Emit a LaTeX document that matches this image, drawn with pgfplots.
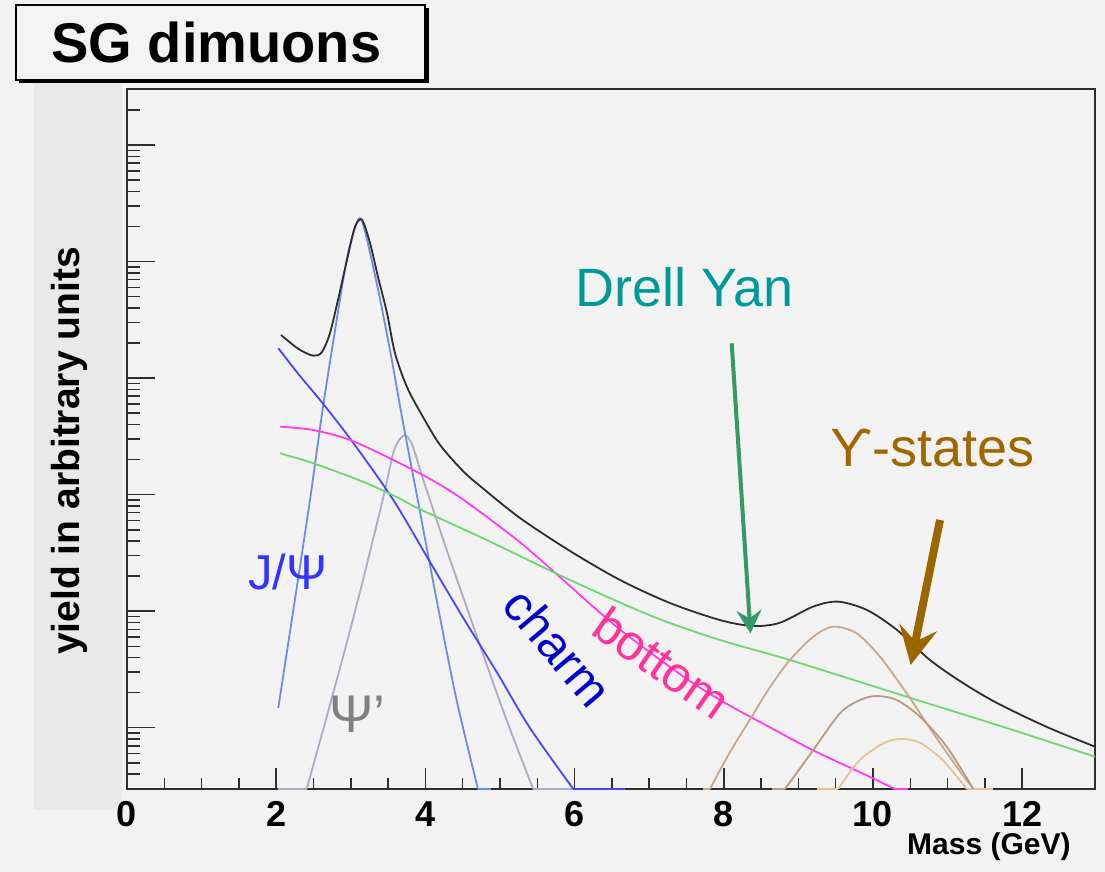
\documentclass[border=0pt]{standalone}
\usepackage{fontspec}
\setmainfont{Liberation Sans}
\usepackage{pgfplots}
\pgfplotsset{compat=1.18}
\usetikzlibrary{arrows.meta}
\definecolor{bg}{RGB}{242,242,242}
\definecolor{panel}{RGB}{233,233,233}
\definecolor{titlebg}{RGB}{243,243,243}
\definecolor{totc}{RGB}{45,45,45}
\definecolor{jpsic}{RGB}{110,140,225}
\definecolor{psipc}{RGB}{175,170,195}
\definecolor{charmc}{RGB}{70,70,245}
\definecolor{bottc}{RGB}{255,60,240}
\definecolor{dyc}{RGB}{110,215,110}
\definecolor{ysa}{RGB}{200,168,140}
\definecolor{ysb}{RGB}{185,155,130}
\definecolor{ysc}{RGB}{228,195,145}
\definecolor{tjpsi}{RGB}{51,51,255}
\definecolor{tpsip}{RGB}{128,128,128}
\definecolor{tcharm}{RGB}{0,0,204}
\definecolor{tbott}{RGB}{255,51,153}
\definecolor{tdy}{RGB}{0,153,153}
\definecolor{tups}{RGB}{160,102,0}
\definecolor{agreen}{RGB}{51,153,102}
\definecolor{abrown}{RGB}{153,102,0}
\begin{document}
\begin{tikzpicture}
\begin{scope}[shift={(-63.5pt,394.5pt)},x=0.5pt,y=-0.5pt]
  \path[use as bounding box, fill=bg] (0,0) rectangle (1105,872);
  \fill[panel] (34,82) rectangle (122,810);
  \fill[black] (19.5,8.5) rectangle (428.5,83.5);
  \filldraw[fill=titlebg, draw=black, line width=0.6pt] (16,5) rectangle (425,80);
  \node[anchor=base west, inner sep=0pt, font=\bfseries\fontsize{28}{30}\selectfont] at (51,63) {SG dimuons};
  \node[rotate=90, anchor=base, inner sep=0pt, font=\bfseries\fontsize{19.5}{22}\selectfont] at (80,451) {yield in arbitrary units};
\end{scope}
\begin{axis}[
  at={(0,0)}, anchor=south west,
  scale only axis, width=484pt, height=350pt,
  xmin=0, xmax=12.976, ymin=-0.526, ymax=5.482,
  clip=false,
  axis line style={draw=totc, line width=1pt},
  xtick={0,2,4,6,8,10,12}, minor x tick num=3,
  ytick=\empty,
  xtick pos=left,
  tick align=inside,
  major tick length=10.5pt, minor tick length=5.5pt,
  tick style={draw=totc, line width=0.75pt},
  /pgf/number format/assume math mode=true,
  xticklabel style={font=\bfseries\fontsize{18}{20}\selectfont, inner sep=0pt, yshift=-6pt},
]
% flat segments on the axis
\addplot[psipc, line width=0.9pt] coordinates {(2.03,-0.526) (2.409,-0.526)};
\addplot[psipc, line width=0.9pt] coordinates {(5.446,-0.526) (6.0,-0.526)};
\addplot[jpsic, line width=0.9pt] coordinates {(4.705,-0.526) (4.879,-0.526)};
\addplot[charmc, line width=0.9pt] coordinates {(5.983,-0.526) (6.676,-0.526)};
\addplot[bottc, line width=0.9pt] coordinates {(10.295,-0.526) (10.47,-0.526)};
\addplot[ysa, line width=0.9pt] coordinates {(7.721,-0.526) (7.815,-0.526)};
\addplot[ysb, line width=0.9pt] coordinates {(8.642,-0.526) (8.820,-0.526)};
\addplot[ysc, line width=0.9pt] coordinates {(9.245,-0.526) (9.535,-0.526)};
\addplot[ysc, line width=0.9pt] coordinates {(11.256,-0.526) (11.613,-0.526)};
% psi prime
\addplot[psipc, line width=0.9pt, smooth, tension=0.5] coordinates {
(2.409,-0.526) (2.677,0.094) (2.945,0.727) (3.164,1.268) (3.436,1.980) (3.570,2.358)
(3.650,2.47) (3.727,2.512) (3.800,2.46) (3.861,2.358) (3.972,2.126) (4.062,1.955)
(4.286,1.525) (4.598,0.953) (4.956,0.298) (5.224,-0.163) (5.446,-0.526)};
% J/psi
\addplot[jpsic, line width=0.9pt, smooth, tension=0.5] coordinates {
(2.028,0.169) (2.275,1.20) (2.453,1.955) (2.627,2.75) (2.811,3.50) (2.945,4.015)
(3.056,4.29) (3.150,4.350) (3.347,3.817) (3.525,3.242) (3.700,2.62) (3.884,2.00)
(4.151,1.096) (4.418,0.238) (4.705,-0.526)};
% charm
\addplot[charmc, line width=0.9pt, smooth, tension=0.5] coordinates {
(2.028,3.257) (2.319,3.019) (2.631,2.779) (3.034,2.444) (3.570,1.955) (4.062,1.422)
(4.508,0.942) (4.956,0.478) (5.402,-0.003) (5.983,-0.526)};
% bottom
\addplot[bottc, line width=0.9pt, smooth, tension=0.5] coordinates {
(2.051,2.584) (2.497,2.555) (2.989,2.470) (3.525,2.312) (4.062,2.135) (4.508,1.957)
(5.268,1.592) (5.894,1.241) (6.251,1.038) (6.698,0.797) (7.503,0.419) (8.039,0.205)
(8.529,0.034) (9.200,-0.195) (9.870,-0.395) (10.295,-0.526)};
% Drell-Yan
\addplot[dyc, line width=0.9pt, smooth, tension=0.5] coordinates {
(2.051,2.355) (2.497,2.270) (3.168,2.11) (3.615,1.98) (3.928,1.875) (4.822,1.611)
(5.938,1.268) (7.055,0.953) (7.949,0.753) (8.887,0.581) (10.452,0.266) (11.877,-0.020)
(12.976,-0.249)};
% Upsilon 1S
\addplot[ysa, line width=0.9pt, smooth, tension=0.5] coordinates {
(7.815,-0.526) (8.083,-0.209) (8.374,0.094) (8.619,0.349) (8.887,0.581) (9.200,0.781)
(9.468,0.867) (9.781,0.810) (10.094,0.609) (10.452,0.295) (10.808,-0.048) (11.122,-0.335)
(11.345,-0.526)};
% Upsilon 2S
\addplot[ysb, line width=0.9pt, smooth, tension=0.5] coordinates {
(8.820,-0.526) (9.021,-0.35) (9.200,-0.191) (9.558,0.124) (9.826,0.238) (10.050,0.272)
(10.318,0.238) (10.630,0.094) (10.988,-0.163) (11.345,-0.526)};
% Upsilon 3S
\addplot[ysc, line width=0.9pt, smooth, tension=0.5] coordinates {
(9.535,-0.526) (9.692,-0.380) (9.870,-0.249) (10.184,-0.120) (10.406,-0.097) (10.630,-0.129)
(10.933,-0.277) (11.256,-0.526)};
% total
\addplot[totc, line width=0.9pt, smooth, tension=0.5] coordinates {
(2.064,3.371) (2.30,3.25) (2.497,3.193) (2.614,3.225) (2.721,3.388) (2.828,3.671)
(2.949,4.015) (3.056,4.298) (3.150,4.358) (3.257,4.161) (3.365,3.869) (3.485,3.560)
(3.592,3.216) (3.753,2.924) (3.968,2.667) (4.196,2.427) (4.504,2.203) (4.732,2.075)
(5.268,1.800) (5.938,1.517) (6.609,1.268) (7.279,1.070) (7.949,0.924) (8.391,0.873)
(8.753,0.901) (9.196,1.039) (9.531,1.082) (9.920,1.010) (10.322,0.839) (10.764,0.581)
(11.206,0.384) (11.662,0.212) (12.332,0.006) (12.976,-0.163)};
\end{axis}
\begin{axis}[
  at={(0,0)}, anchor=south west,
  scale only axis, width=484pt, height=350pt,
  xmin=0, xmax=12.976, ymin=-0.526, ymax=5.482,
  axis line style={draw=none},
  xtick=\empty,
  ytick={0,1,2,3,4,5},
  minor ytick={-0.398,-0.301,-0.222,-0.155,-0.097,-0.046,
    0.301,0.477,0.602,0.699,0.778,0.845,0.903,0.954,
    1.301,1.477,1.602,1.699,1.778,1.845,1.903,1.954,
    2.301,2.477,2.602,2.699,2.778,2.845,2.903,2.954,
    3.301,3.477,3.602,3.699,3.778,3.845,3.903,3.954,
    4.301,4.477,4.602,4.699,4.778,4.845,4.903,4.954,
    5.301,5.477},
  yticklabels={},
  ytick pos=left,
  tick align=inside,
  major tick length=14pt, minor tick length=6.5pt,
  tick style={draw=totc, line width=0.75pt},
]
\end{axis}
\begin{scope}[shift={(-63.5pt,394.5pt)},x=0.5pt,y=-0.5pt]
  \node[anchor=base east, inner sep=0pt, font=\bfseries\fontsize{15}{17}\selectfont] at (1071,855) {Mass (GeV)};
  \node[anchor=base west, inner sep=0pt, text=tdy, font=\fontsize{27}{30}\selectfont] at (575,306.7) {Drell Yan};
  \node[anchor=base west, inner sep=0pt, text=tups, font=\fontsize{27}{30}\selectfont] at (830,466.7) {ϒ-states};
  \node[anchor=base west, inner sep=0pt, text=tjpsi, font=\fontsize{24.5}{28}\selectfont] at (248,590) {J/Ψ};
  \node[anchor=base west, inner sep=0pt, text=tpsip, font=\fontsize{26.5}{30}\selectfont] at (329,733) {Ψ’};
  \node[rotate=-50, inner sep=0pt, text=tcharm, font=\fontsize{24.5}{28}\selectfont] at (558,647) {charm};
  \node[rotate=-35, inner sep=0pt, text=tbott, font=\fontsize{25}{28}\selectfont] at (662,663) {bottom};
  \draw[agreen, line width=2pt, -{Stealth[length=11.5pt, width=12.5pt, inset=4pt]}] (731.7,343.3) -- (750.5,633.3);
  \draw[abrown, line width=4pt, -{Stealth[length=19pt, width=19pt, inset=7pt]}] (940,520) -- (910.7,665);
\end{scope}
\end{tikzpicture}
\end{document}
